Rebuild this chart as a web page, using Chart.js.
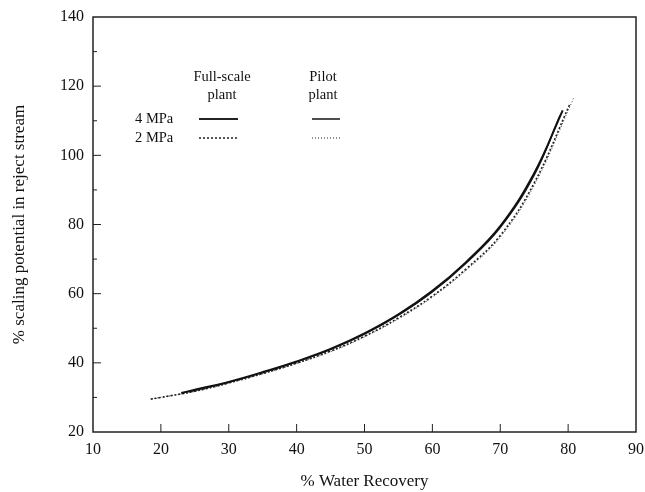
<!DOCTYPE html>
<html lang="en">
<head>
    <meta charset="UTF-8">
    <title>Scaling potential vs water recovery</title>
    <script src="https://cdn.jsdelivr.net/npm/chart.js"></script>
    <style>
        body { margin: 0; background: #fff; }
        .wrap { position: relative; width: 645px; height: 492px; }
    </style>
</head>
<body>
    <div class="wrap"><canvas id="chart"></canvas></div>
    <script>
        // % water recovery vs % scaling potential
        const full4X = [23, 25, 30, 35, 40, 45, 50, 55, 60, 65, 70, 75, 79.2];
        const full4Y = [31.3, 32.2, 34.5, 37.3, 40.4, 44, 48.5, 54, 60.8, 69.2, 79.5, 94.8, 113];
        const pilot4X = [24, 30, 35, 40, 45, 50, 55, 60, 65, 70, 75, 78.8];
        const pilot4Y = [31.6, 34.4, 37.2, 40.3, 43.9, 48.3, 53.8, 60.5, 68.9, 79.1, 94.3, 111.5];
        const full2X = [18.5, 20, 25, 30, 35, 40, 45, 50, 55, 60, 65, 70, 75, 80.3];
        const full2Y = [29.5, 30, 31.8, 34.2, 36.9, 39.9, 43.4, 47.7, 53, 59.3, 67.2, 76.8, 92, 115];
        const pilot2X = [19, 25, 30, 35, 40, 45, 50, 55, 60, 65, 70, 75, 80.8];
        const pilot2Y = [29.7, 31.7, 34.1, 36.8, 39.8, 43.2, 47.5, 52.7, 59, 66.8, 76.3, 91.3, 116.5];

        const xTicks = [10, 20, 30, 40, 50, 60, 70, 80, 90];
        const yTicks = [20, 40, 60, 80, 100, 120, 140];
        const yMinor = [30, 50, 70, 90, 110, 130];

        const pts = (xs, ys) => xs.map((x, i) => ({ x: x, y: ys[i] }));
        const serif = "'Liberation Serif', 'DejaVu Serif', serif";

        // frame, inward ticks and the legend block
        const decor = {
            id: 'decor',
            afterDraw(chart) {
                const ctx = chart.ctx;
                const a = chart.chartArea;
                const xs = chart.scales.x, ys = chart.scales.y;
                ctx.save();
                ctx.strokeStyle = '#222';
                ctx.lineWidth = 1.5;
                ctx.strokeRect(a.left, a.top, a.right - a.left, a.bottom - a.top);
                ctx.lineWidth = 1;
                ctx.beginPath();
                xTicks.slice(1, -1).forEach(v => {
                    const p = xs.getPixelForValue(v);
                    ctx.moveTo(p, a.bottom); ctx.lineTo(p, a.bottom - 8);
                });
                yTicks.slice(1, -1).forEach(v => {
                    const p = ys.getPixelForValue(v);
                    ctx.moveTo(a.left, p); ctx.lineTo(a.left + 8, p);
                });
                yMinor.forEach(v => {
                    const p = ys.getPixelForValue(v);
                    ctx.moveTo(a.left, p); ctx.lineTo(a.left + 4, p);
                });
                ctx.stroke();

                // legend
                ctx.fillStyle = '#111';
                ctx.font = '14.5px ' + serif;
                ctx.textAlign = 'center';
                ctx.textBaseline = 'middle';
                ctx.fillText('Full-scale', 222, 77);
                ctx.fillText('plant', 222, 95);
                ctx.fillText('Pilot', 323, 77);
                ctx.fillText('plant', 323, 95);
                ctx.textAlign = 'left';
                ctx.fillText('4 MPa', 135, 119);
                ctx.fillText('2 MPa', 135, 138);

                const sample = (x1, x2, y, w, dash) => {
                    ctx.beginPath();
                    ctx.lineWidth = w;
                    ctx.setLineDash(dash);
                    ctx.moveTo(x1, y); ctx.lineTo(x2, y);
                    ctx.stroke();
                };
                sample(199, 238, 119, 2, []);
                sample(312, 340, 119, 1.6, []);
                sample(199, 238, 138, 1.5, [2, 2]);
                sample(312, 340, 138, 1, [1, 2]);
                ctx.restore();
            }
        };

        new Chart(document.getElementById('chart'), {
            type: 'scatter',
            data: {
                datasets: [
                    { label: 'Full-scale 4 MPa', data: pts(full4X, full4Y), borderColor: '#111', borderWidth: 2 },
                    { label: 'Pilot 4 MPa', data: pts(pilot4X, pilot4Y), borderColor: '#222', borderWidth: 1.5 },
                    { label: 'Full-scale 2 MPa', data: pts(full2X, full2Y), borderColor: '#222', borderWidth: 1.6, borderDash: [2, 2] },
                    { label: 'Pilot 2 MPa', data: pts(pilot2X, pilot2Y), borderColor: '#444', borderWidth: 1, borderDash: [1, 2] }
                ].map(d => Object.assign(d, { showLine: true, pointRadius: 0, tension: 0.4, fill: false }))
            },
            options: {
                responsive: true,
                maintainAspectRatio: false,
                animation: false,
                layout: { padding: { top: 17, right: 9, left: 0, bottom: 0 } },
                plugins: { legend: { display: false }, tooltip: { enabled: false } },
                scales: {
                    x: {
                        type: 'linear', min: 10, max: 90,
                        afterFit: s => { s.height = 60; s.paddingLeft = 0; s.paddingRight = 0; },
                        afterBuildTicks: s => { s.ticks = xTicks.map(v => ({ value: v })); },
                        grid: { display: false, drawTicks: false },
                        border: { display: false },
                        ticks: { color: '#111', padding: 8, font: { family: serif, size: 16 }, maxRotation: 0 },
                        title: { display: true, text: '% Water Recovery', color: '#111', padding: { top: 0, bottom: 0 }, font: { family: serif, size: 17 } }
                    },
                    y: {
                        type: 'linear', min: 20, max: 140,
                        afterFit: s => { s.width = 93; s.paddingTop = 0; s.paddingBottom = 0; },
                        afterBuildTicks: s => { s.ticks = yTicks.map(v => ({ value: v })); },
                        grid: { display: false, drawTicks: false },
                        border: { display: false },
                        ticks: { color: '#111', padding: 9, font: { family: serif, size: 16 } },
                        title: { display: true, text: '% scaling potential in reject stream', color: '#111', padding: { top: 9, bottom: 0 }, font: { family: serif, size: 17 } }
                    }
                }
            },
            plugins: [decor]
        });
    </script>
</body>
</html>
